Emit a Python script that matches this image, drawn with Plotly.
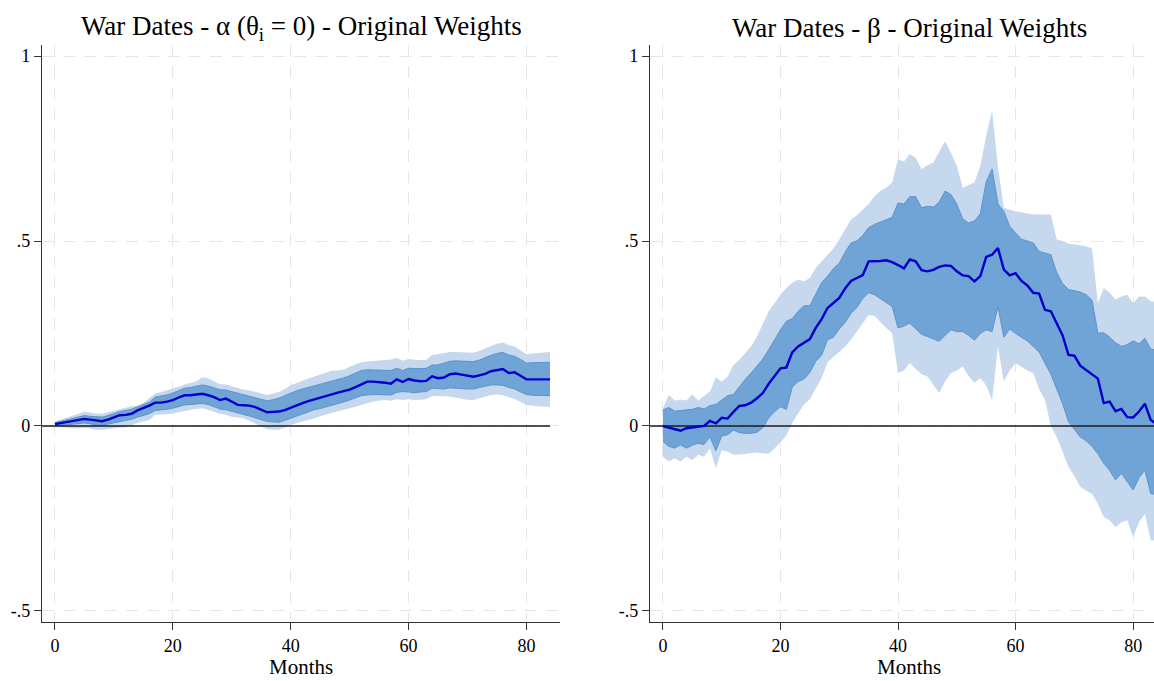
import plotly.graph_objects as go

# ---------------- data ----------------
months = list(range(85))

alpha_est = [0.005, 0.008, 0.010, 0.013, 0.016, 0.019, 0.017, 0.014, 0.013, 0.017,
             0.024, 0.029, 0.030, 0.033, 0.042, 0.048, 0.055, 0.063, 0.063, 0.066,
             0.070, 0.077, 0.083, 0.083, 0.085, 0.087, 0.083, 0.078, 0.070, 0.074,
             0.066, 0.057, 0.056, 0.055, 0.051, 0.043, 0.037, 0.038, 0.039, 0.043,
             0.050, 0.057, 0.062, 0.067, 0.072, 0.076, 0.082, 0.085, 0.090, 0.094,
             0.098, 0.105, 0.113, 0.120, 0.120, 0.119, 0.117, 0.114, 0.126, 0.119,
             0.127, 0.123, 0.121, 0.122, 0.134, 0.129, 0.131, 0.140, 0.142, 0.139,
             0.137, 0.133, 0.137, 0.141, 0.148, 0.152, 0.154, 0.143, 0.145, 0.136,
             0.126, 0.126, 0.126, 0.126, 0.126]
alpha_hi90 = [0.012, 0.017, 0.021, 0.027, 0.033, 0.039, 0.036, 0.033, 0.033, 0.037,
              0.042, 0.047, 0.050, 0.053, 0.055, 0.062, 0.075, 0.088, 0.092, 0.096,
              0.100, 0.106, 0.112, 0.116, 0.120, 0.132, 0.129, 0.121, 0.113, 0.112,
              0.107, 0.101, 0.098, 0.096, 0.093, 0.088, 0.084, 0.087, 0.092, 0.100,
              0.110, 0.116, 0.121, 0.128, 0.134, 0.139, 0.145, 0.149, 0.150, 0.152,
              0.160, 0.166, 0.172, 0.174, 0.175, 0.177, 0.179, 0.180, 0.184, 0.176,
              0.181, 0.179, 0.178, 0.179, 0.192, 0.194, 0.197, 0.200, 0.200, 0.199,
              0.198, 0.198, 0.203, 0.210, 0.217, 0.222, 0.226, 0.219, 0.215, 0.205,
              0.194, 0.196, 0.198, 0.200, 0.200]
alpha_hi68 = [0.009, 0.013, 0.016, 0.020, 0.025, 0.028, 0.026, 0.024, 0.024, 0.028,
              0.034, 0.039, 0.042, 0.045, 0.052, 0.057, 0.064, 0.078, 0.080, 0.084,
              0.089, 0.095, 0.102, 0.104, 0.107, 0.111, 0.108, 0.103, 0.098, 0.097,
              0.093, 0.087, 0.084, 0.080, 0.076, 0.071, 0.068, 0.071, 0.075, 0.082,
              0.089, 0.095, 0.100, 0.104, 0.108, 0.113, 0.118, 0.122, 0.126, 0.130,
              0.136, 0.142, 0.150, 0.152, 0.152, 0.152, 0.152, 0.150, 0.156, 0.150,
              0.156, 0.155, 0.155, 0.156, 0.165, 0.165, 0.170, 0.175, 0.176, 0.175,
              0.174, 0.174, 0.178, 0.185, 0.191, 0.196, 0.199, 0.192, 0.188, 0.180,
              0.170, 0.171, 0.172, 0.172, 0.172]
alpha_lo68 = [0.000, 0.002, 0.004, 0.005, 0.006, 0.008, 0.006, 0.002, 0.002, 0.005,
              0.010, 0.013, 0.014, 0.018, 0.024, 0.028, 0.033, 0.042, 0.043, 0.045,
              0.048, 0.053, 0.057, 0.058, 0.059, 0.061, 0.058, 0.052, 0.046, 0.044,
              0.039, 0.034, 0.031, 0.027, 0.022, 0.016, 0.012, 0.011, 0.010, 0.015,
              0.021, 0.027, 0.034, 0.040, 0.044, 0.047, 0.051, 0.055, 0.060, 0.065,
              0.070, 0.076, 0.082, 0.084, 0.085, 0.085, 0.084, 0.084, 0.091, 0.093,
              0.092, 0.090, 0.092, 0.093, 0.102, 0.100, 0.100, 0.103, 0.103, 0.101,
              0.100, 0.100, 0.104, 0.108, 0.111, 0.111, 0.110, 0.104, 0.100, 0.092,
              0.085, 0.083, 0.082, 0.082, 0.082]
alpha_lo90 = [-0.002, -0.004, -0.005, -0.006, -0.006, -0.005, -0.007, -0.010, -0.010, -0.008,
              -0.005, -0.004, -0.004, 0.003, 0.008, 0.012, 0.016, 0.030, 0.030, 0.032,
              0.034, 0.038, 0.042, 0.044, 0.046, 0.048, 0.044, 0.038, 0.033, 0.030,
              0.025, 0.023, 0.021, 0.014, 0.006, -0.002, -0.009, -0.010, -0.010, -0.004,
              0.003, 0.008, 0.012, 0.015, 0.020, 0.026, 0.032, 0.036, 0.040, 0.043,
              0.048, 0.052, 0.057, 0.062, 0.066, 0.069, 0.070, 0.068, 0.072, 0.070,
              0.072, 0.070, 0.070, 0.072, 0.081, 0.080, 0.079, 0.080, 0.076, 0.073,
              0.071, 0.070, 0.074, 0.080, 0.084, 0.085, 0.083, 0.078, 0.073, 0.065,
              0.057, 0.055, 0.053, 0.052, 0.052]

beta_est = [0.000, -0.005, -0.009, -0.013, -0.006, -0.004, -0.004, 0.000, 0.014, 0.007,
            0.022, 0.020, 0.038, 0.054, 0.056, 0.063, 0.075, 0.089, 0.114, 0.136,
            0.156, 0.158, 0.199, 0.215, 0.226, 0.235, 0.265, 0.289, 0.319, 0.333,
            0.346, 0.372, 0.392, 0.400, 0.408, 0.445, 0.445, 0.446, 0.448, 0.443,
            0.435, 0.426, 0.450, 0.445, 0.421, 0.418, 0.422, 0.430, 0.434, 0.433,
            0.418, 0.407, 0.405, 0.391, 0.405, 0.457, 0.463, 0.481, 0.423, 0.407,
            0.413, 0.392, 0.380, 0.360, 0.358, 0.314, 0.310, 0.278, 0.245, 0.192,
            0.190, 0.163, 0.152, 0.140, 0.128, 0.062, 0.066, 0.040, 0.046, 0.024,
            0.023, 0.039, 0.060, 0.016, 0.005]
beta_hi68 = [0.043, 0.050, 0.040, 0.041, 0.042, 0.045, 0.050, 0.046, 0.055, 0.058,
             0.070, 0.082, 0.085, 0.107, 0.126, 0.143, 0.161, 0.181, 0.206, 0.233,
             0.260, 0.283, 0.290, 0.310, 0.325, 0.325, 0.355, 0.387, 0.405, 0.425,
             0.440, 0.470, 0.495, 0.500, 0.515, 0.536, 0.545, 0.552, 0.557, 0.564,
             0.603, 0.600, 0.620, 0.620, 0.590, 0.594, 0.592, 0.605, 0.635, 0.626,
             0.600, 0.560, 0.549, 0.554, 0.574, 0.660, 0.695, 0.600, 0.580, 0.540,
             0.522, 0.505, 0.500, 0.495, 0.472, 0.468, 0.463, 0.415, 0.385, 0.369,
             0.366, 0.362, 0.355, 0.340, 0.251, 0.252, 0.240, 0.225, 0.215, 0.220,
             0.230, 0.222, 0.237, 0.208, 0.205]
beta_lo68 = [-0.042, -0.055, -0.060, -0.051, -0.060, -0.052, -0.047, -0.050, -0.029, -0.067,
             -0.027, -0.024, -0.011, -0.018, -0.020, -0.020, -0.017, -0.005, 0.022, 0.039,
             0.052, 0.045, 0.105, 0.120, 0.127, 0.145, 0.175, 0.191, 0.233, 0.240,
             0.262, 0.280, 0.305, 0.320, 0.345, 0.360, 0.355, 0.345, 0.335, 0.323,
             0.265, 0.270, 0.278, 0.262, 0.248, 0.242, 0.235, 0.229, 0.245, 0.260,
             0.255, 0.255, 0.245, 0.232, 0.250, 0.260, 0.255, 0.323, 0.240, 0.262,
             0.250, 0.240, 0.230, 0.215, 0.200, 0.170, 0.140, 0.100, 0.060, 0.012,
             -0.010, -0.030, -0.040, -0.055, -0.075, -0.101, -0.120, -0.146, -0.128, -0.150,
             -0.173, -0.140, -0.119, -0.183, -0.185]
beta_hi90 = [0.048, 0.084, 0.069, 0.071, 0.069, 0.086, 0.069, 0.081, 0.093, 0.131,
             0.120, 0.133, 0.165, 0.179, 0.197, 0.215, 0.242, 0.278, 0.310, 0.332,
             0.355, 0.373, 0.387, 0.396, 0.391, 0.400, 0.427, 0.445, 0.463, 0.480,
             0.504, 0.530, 0.558, 0.570, 0.585, 0.600, 0.621, 0.635, 0.645, 0.658,
             0.721, 0.715, 0.735, 0.725, 0.694, 0.705, 0.712, 0.740, 0.770, 0.739,
             0.703, 0.644, 0.650, 0.658, 0.703, 0.784, 0.852, 0.700, 0.590, 0.585,
             0.580, 0.578, 0.575, 0.572, 0.572, 0.572, 0.572, 0.504, 0.500, 0.493,
             0.490, 0.488, 0.486, 0.480, 0.332, 0.373, 0.360, 0.342, 0.350, 0.355,
             0.332, 0.350, 0.350, 0.337, 0.335]
beta_lo90 = [-0.083, -0.096, -0.087, -0.096, -0.083, -0.092, -0.078, -0.083, -0.060, -0.115,
             -0.065, -0.070, -0.078, -0.078, -0.076, -0.074, -0.072, -0.074, -0.075, -0.060,
             -0.045, -0.025, 0.008, 0.034, 0.058, 0.072, 0.100, 0.130, 0.172, 0.186,
             0.200, 0.215, 0.233, 0.255, 0.280, 0.300, 0.297, 0.280, 0.265, 0.251,
             0.143, 0.150, 0.170, 0.155, 0.140, 0.134, 0.110, 0.089, 0.120, 0.143,
             0.150, 0.161, 0.135, 0.116, 0.130, 0.110, 0.070, 0.215, 0.121, 0.150,
             0.170, 0.160, 0.150, 0.143, 0.100, 0.070, 0.000, -0.030, -0.070, -0.110,
             -0.135, -0.164, -0.175, -0.183, -0.210, -0.246, -0.255, -0.273, -0.260, -0.255,
             -0.300, -0.260, -0.237, -0.309, -0.310]

x_ticks = [0, 20, 40, 60, 80]
y_ticks = [-0.5, 0, 0.5, 1]
y_tick_text = ["-.5", "0", ".5", "1"]
titles = ["War Dates - α (θ<sub>i</sub> = 0) - Original Weights",
          "War Dates - β - Original Weights"]
x_label = "Months"

# ---------------- style ----------------
W, H = 1154, 681
FONT = "Liberation Serif, Times New Roman, serif"
OUTER = "rgb(197,216,238)"
INNER = "rgb(113,164,214)"
INNER_EDGE = "rgb(92,147,206)"
LINE = "rgb(0,0,200)"
AXIS = "#333333"
GRID = "#e6e6e6"

X_RANGE_L = [-2.2, 85.7]
X_RANGE_R = [-2.2, 83.55]
Y_RANGE = [-0.53, 1.03]
Y_DOM = [1 - 622 / H, 1 - 45 / H]

fig = go.Figure()


def add_panel(xa, ya, xr, est, lo90, hi90, lo68, hi68):
    common = dict(xaxis=xa, yaxis=ya, showlegend=False, hoverinfo="skip")
    fig.add_trace(go.Scatter(x=months, y=hi90, mode="lines",
                             line=dict(width=0, color=OUTER), **common))
    fig.add_trace(go.Scatter(x=months, y=lo90, mode="lines",
                             line=dict(width=0, color=OUTER),
                             fill="tonexty", fillcolor=OUTER, **common))
    fig.add_trace(go.Scatter(x=months, y=hi68, mode="lines",
                             line=dict(width=1, color=INNER_EDGE), **common))
    fig.add_trace(go.Scatter(x=months, y=lo68, mode="lines",
                             line=dict(width=1, color=INNER_EDGE),
                             fill="tonexty", fillcolor=INNER, **common))
    fig.add_trace(go.Scatter(x=[xr[0], months[-1]], y=[0, 0], mode="lines",
                             line=dict(width=1.6, color="#1a1a1a"), **common))
    fig.add_trace(go.Scatter(x=months, y=est, mode="lines",
                             line=dict(width=2.4, color=LINE), **common))


add_panel("x", "y", X_RANGE_L, alpha_est, alpha_lo90, alpha_hi90, alpha_lo68, alpha_hi68)
add_panel("x2", "y2", X_RANGE_R, beta_est, beta_lo90, beta_hi90, beta_lo68, beta_hi68)

xaxis_common = dict(tickmode="array", tickvals=x_ticks, ticks="outside", ticklen=7,
                    tickwidth=1.2, tickcolor=AXIS, showline=True, linecolor=AXIS,
                    linewidth=1.3, showgrid=True, gridcolor=GRID, gridwidth=1.3,
                    griddash="12px,9px", zeroline=False,
                    tickfont=dict(family=FONT, size=18, color="black"))
yaxis_common = dict(tickmode="array", tickvals=y_ticks, ticktext=y_tick_text,
                    ticks="outside", ticklen=7, tickwidth=1.2, tickcolor=AXIS,
                    showline=True, linecolor=AXIS, linewidth=1.3, showgrid=True,
                    gridcolor=GRID, gridwidth=1.3, griddash="12px,9px", zeroline=False,
                    range=Y_RANGE, domain=Y_DOM,
                    tickfont=dict(family=FONT, size=18, color="black"))

fig.update_layout(
    width=W, height=H,
    margin=dict(l=0, r=0, t=0, b=0),
    paper_bgcolor="white", plot_bgcolor="white",
    xaxis=dict(domain=[42 / W, 560 / W], range=X_RANGE_L, anchor="y", **xaxis_common),
    yaxis=dict(anchor="x", **yaxis_common),
    xaxis2=dict(domain=[650 / W, 1.0], range=X_RANGE_R, anchor="y2", **xaxis_common),
    yaxis2=dict(anchor="x2", **yaxis_common),
)

ann = []
for cx, t in zip([301, 909], titles):
    ann.append(dict(text=t, x=cx / W, y=1 - 28 / H, xref="paper", yref="paper",
                    xanchor="center", yanchor="middle", showarrow=False,
                    font=dict(family=FONT, size=27, color="black")))
    ann.append(dict(text=x_label, x=cx / W, y=0, xref="paper", yref="paper",
                    xanchor="center", yanchor="bottom", showarrow=False,
                    font=dict(family=FONT, size=21, color="black")))
fig.update_layout(annotations=ann)

fig.write_html("out.html")
